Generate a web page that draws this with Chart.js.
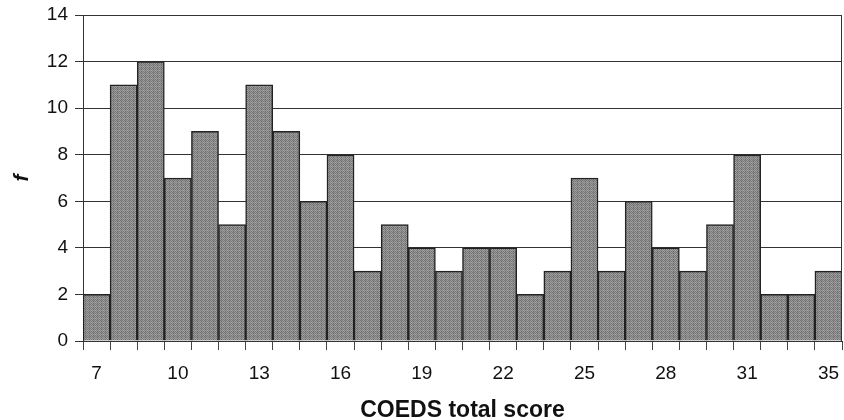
<!DOCTYPE html>
<html>
<head>
<meta charset="utf-8">
<script src="https://cdn.jsdelivr.net/npm/chart.js@4/dist/chart.umd.min.js"></script>
<style>
html,body{margin:0;padding:0;background:#fff;}
#wrap{width:844px;height:420px;position:relative;}
</style>
</head>
<body>
<div id="wrap"><canvas id="c" width="844" height="420"></canvas></div>
<script>
const categories = ['7','8','9','10','11','12','13','14','15','16','17','18','19','20','21','22','23','24','25','26','27','28','29','30','31','32','33','35'];
const frequencies = [2,11,12,7,9,5,11,9,6,8,3,5,4,3,4,4,2,3,7,3,6,4,3,5,8,2,2,3];
const xTitle = 'COEDS total score';
const yTitle = 'f';

function makePattern(){
  const p = document.createElement('canvas');
  p.width = 8; p.height = 8;
  const g = p.getContext('2d');
  for (let y=0;y<8;y++) for (let x=0;x<8;x++){
    let v = ((x+y)%2===0) ? 118 : 156;
    if (x%4===1) v -= 14;
    if (y%4===2) v += 12;
    g.fillStyle = 'rgb('+v+','+v+','+v+')';
    g.fillRect(x,y,1,1);
  }
  return document.getElementById('c').getContext('2d').createPattern(p,'repeat');
}

const rightBorder = {
  id:'rightBorder',
  afterDraw(chart){
    const {ctx, chartArea:a} = chart;
    ctx.save();
    ctx.strokeStyle = '#333';
    ctx.lineWidth = 1;
    ctx.beginPath();
    ctx.moveTo(Math.round(a.right)-0.5, a.top);
    ctx.lineTo(Math.round(a.right)-0.5, a.bottom);
    ctx.stroke();
    ctx.restore();
  }
};

const font = "'Liberation Sans', Arial, sans-serif";

new Chart(document.getElementById('c'), {
  type:'bar',
  data:{
    labels: categories,
    datasets:[{
      data: frequencies,
      backgroundColor: makePattern(),
      borderColor:'#222',
      borderWidth:1.5,
      categoryPercentage:1,
      barPercentage:1
    }]
  },
  options:{
    responsive:false,
    animation:false,
    devicePixelRatio:1,
    layout:{padding:{left:0,right:2,top:15,bottom:0}},
    plugins:{legend:{display:false},tooltip:{enabled:false}},
    scales:{
      x:{
        z:1,
        grid:{display:true, offset:true, drawOnChartArea:false, drawTicks:true, tickLength:9, color:'#444', lineWidth:1},
        border:{display:true,color:'#333',width:1},
        ticks:{
          autoSkip:false, maxRotation:0, padding:12,
          color:'#111', font:{family:font,size:19},
          callback:function(v,i){ return i%3===0 ? categories[i] : ''; }
        },
        title:{display:true,text:xTitle,color:'#111',font:{family:font,size:23,weight:'bold',lineHeight:1},padding:{top:0,bottom:-2}},
        afterFit(s){ s.height = 79; s.paddingLeft = 0; s.paddingRight = 0; }
      },
      y:{
        z:1,
        min:0,max:14,
        grid:{color:'#333',lineWidth:1,tickLength:8},
        border:{display:true,color:'#333',width:1},
        ticks:{stepSize:2,padding:7,color:'#111',font:{family:font,size:19}},
        title:{display:true,text:yTitle,color:'#111',font:{family:font,size:21,weight:'bold',style:'italic',lineHeight:1},padding:{top:12,bottom:0}},
        afterFit(s){ s.width = 83; s.paddingTop = 0; s.paddingBottom = 0; }
      }
    }
  },
  plugins:[rightBorder]
});
</script>
</body>
</html>
